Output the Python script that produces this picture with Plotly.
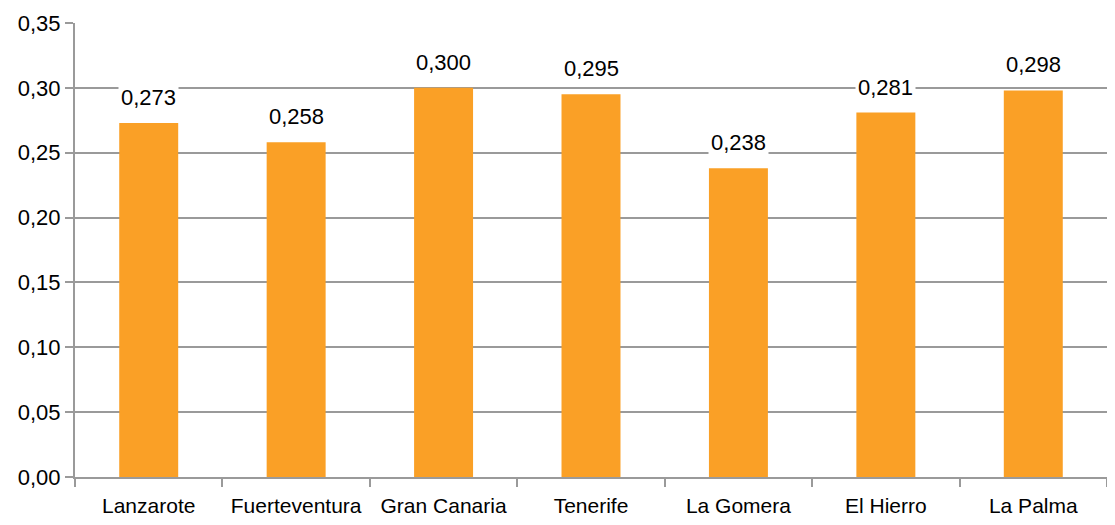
import plotly.graph_objects as go

islands = ['Lanzarote', 'Fuerteventura', 'Gran Canaria', 'Tenerife', 'La Gomera', 'El Hierro', 'La Palma']
values = [0.273, 0.258, 0.300, 0.295, 0.238, 0.281, 0.298]
y_ticks = [0.00, 0.05, 0.10, 0.15, 0.20, 0.25, 0.30, 0.35]

FONT = 'Liberation Sans Narrow, Arial Narrow, Liberation Sans, Arial'

fig = go.Figure()

fig.add_trace(go.Bar(x=islands, y=values, marker=dict(color='#FAA026', line=dict(width=0)),
                     hoverinfo='x+y'))

# Data labels with white box, like in the spreadsheet chart
for name, v in zip(islands, values):
    fig.add_annotation(x=name, y=v, text=f'{v:.3f}'.replace('.', ','),
                       showarrow=False, yanchor='bottom', yshift=10,
                       bgcolor='white', borderpad=2,
                       font=dict(family=FONT, size=22, color='black'))

# page body has an 8px margin, so the figure is sized to fit inside the window
fig.update_layout(
    width=1099,
    height=509,
    margin=dict(l=67, r=0, t=15, b=40, autoexpand=False),
    plot_bgcolor='white',
    paper_bgcolor='white',
    separators=', ',
    bargap=0.6,
    showlegend=False,
    font=dict(family=FONT, size=22, color='black'),
    xaxis=dict(showline=True, linecolor='#9a9a9a', linewidth=2, automargin=False,
               ticks='outside', tickson='boundaries', ticklen=8, tickwidth=2, tickcolor='#9a9a9a',
               showgrid=False, ticklabelstandoff=9, tickangle=0, tickfont=dict(size=21)),
    yaxis=dict(range=[0, 0.35], tickvals=y_ticks, tickformat='.2f', automargin=False,
               showline=True, linecolor='#9a9a9a', linewidth=2,
               ticks='outside', ticklen=8, tickwidth=2, tickcolor='#9a9a9a',
               showgrid=True, gridcolor='#9a9a9a', gridwidth=2, zeroline=False),
)

fig.write_html('out.html')
